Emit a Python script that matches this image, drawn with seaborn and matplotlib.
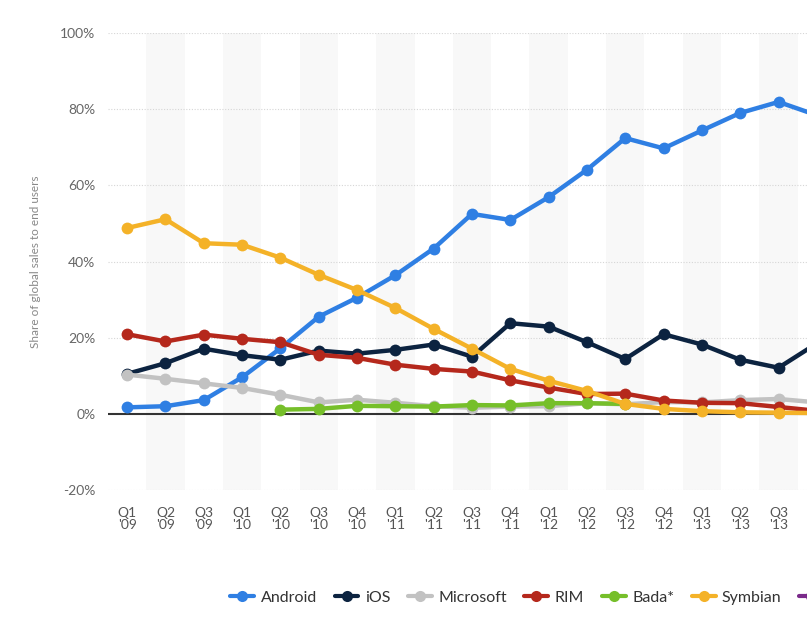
import numpy as np
import pandas as pd
import matplotlib
matplotlib.use("Agg")
import matplotlib.pyplot as plt
from matplotlib.lines import Line2D
import seaborn as sns

quarters = ["Q1\n'09", "Q2\n'09", "Q3\n'09", "Q1\n'10", "Q2\n'10", "Q3\n'10", "Q4\n'10",
            "Q1\n'11", "Q2\n'11", "Q3\n'11", "Q4\n'11", "Q1\n'12", "Q2\n'12", "Q3\n'12",
            "Q4\n'12", "Q1\n'13", "Q2\n'13", "Q3\n'13", "Q4\n'13"]

android = [1.7, 2.0, 3.6, 9.6, 17.2, 25.5, 30.5, 36.4, 43.4, 52.5, 50.9, 56.9, 64.1, 72.4, 69.7, 74.4, 79.0, 81.9, 78.4]
ios = [10.5, 13.3, 17.1, 15.4, 14.2, 16.6, 15.8, 16.8, 18.2, 15.0, 23.8, 22.9, 18.8, 14.4, 20.9, 18.2, 14.2, 12.1, 18.5]
microsoft = [10.3, 9.2, 8.0, 6.8, 5.0, 3.0, 3.7, 2.9, 2.0, 1.6, 1.9, 2.0, 2.8, 2.5, 3.1, 3.0, 3.6, 3.9, 3.0]
rim = [20.9, 19.0, 20.8, 19.7, 18.8, 15.5, 14.7, 12.9, 11.8, 11.1, 8.8, 6.9, 5.2, 5.3, 3.5, 2.9, 2.8, 1.8, 0.8]
bada = [np.nan, np.nan, np.nan, np.nan, 1.1, 1.3, 2.1, 2.0, 1.9, 2.3, 2.2, 2.8, 2.8, 2.6, np.nan, np.nan, np.nan, np.nan, np.nan]
symbian = [48.8, 51.1, 44.8, 44.4, 41.0, 36.5, 32.5, 27.8, 22.3, 17.1, 11.8, 8.7, 6.0, 2.6, 1.3, 0.7, 0.4, 0.3, 0.2]
others = [np.nan] * 19

series_names = ["Android", "iOS", "Microsoft", "RIM", "Bada*", "Symbian", "Others"]
series_values = [android, ios, microsoft, rim, bada, symbian, others]
colors = ["#2f7fe3", "#0c2340", "#c2c2c2", "#b5281c", "#76bf2a", "#f4b228", "#7a2a8a"]

ytick_vals = [-20, 0, 20, 40, 60, 80, 100]
ytick_labels = ["-20%", "0%", "20%", "40%", "60%", "80%", "100%"]

rows = []
for name, vals in zip(series_names, series_values):
    for i, v in enumerate(vals):
        if not np.isnan(v):
            rows.append({"series": name, "x": i, "value": v})
df = pd.DataFrame(rows)

sns.set_theme(style="white")
plt.rcParams['font.family'] = ['Lato', 'DejaVu Sans']

fig = plt.figure(figsize=(8.07, 6.25), dpi=100)
ax = fig.add_axes([108 / 807, 1 - 490 / 625, 728 / 807, 457 / 625])

n = len(quarters)
for i in range(1, n, 2):
    ax.axvspan(i - 0.5, i + 0.5, color="#f8f8f8", zorder=0, lw=0)

for y in ytick_vals:
    if y != 0:
        ax.axhline(y, color="#d6d6d6", lw=0.8, ls=(0, (1, 1.5)), zorder=1)
ax.axhline(0, color="#333333", lw=1.5, zorder=2)

palette = dict(zip(series_names, colors))
sns.lineplot(data=df, x="x", y="value", hue="series", hue_order=series_names,
             palette=palette, marker="o", markersize=8.5, markeredgewidth=0,
             linewidth=3.2, legend=False, ax=ax, zorder=3, sort=False)

ax.set_xlim(-0.5, n - 0.5)
ax.set_ylim(-20, 100)
ax.set_xticks(range(n))
ax.set_xticklabels(quarters, fontsize=10, color="#555555", linespacing=1.05)
ax.set_yticks(ytick_vals)
ax.set_yticklabels(ytick_labels, fontsize=10, color="#666666")
ax.tick_params(axis="both", length=0, pad=9)
ax.tick_params(axis="x", pad=12)
ax.set_xlabel("")
ax.set_ylabel("Share of global sales to end users", fontsize=8.5, color="#888888", labelpad=14)
for s in ax.spines.values():
    s.set_visible(False)

handles = [Line2D([0], [0], color=c, lw=3, marker="o", markersize=8, markeredgewidth=0)
           for c in colors]
fig.legend(handles, series_names, loc="center left", bbox_to_anchor=(216 / 807, 1 - 598 / 625),
           ncol=7, frameon=False, fontsize=11.5, handlelength=1.5, handletextpad=0.4,
           columnspacing=1.1, labelcolor="#333333")

fig.savefig("out.png", dpi=100)
